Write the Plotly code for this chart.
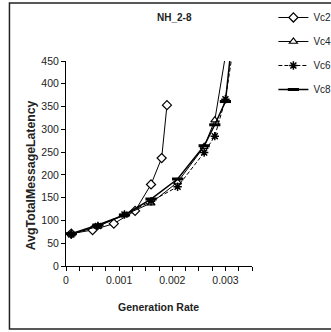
import plotly.graph_objects as go

# ---- data ----
x_vc2 = [0.0001, 0.0005, 0.0009, 0.0013, 0.0016, 0.0018, 0.0019]
y_vc2 = [71, 79, 93, 121, 179, 237, 353]

x_common = [0.0001, 0.0006, 0.0011, 0.0016, 0.0021, 0.0026, 0.0028, 0.0030, 0.0032]
y_vc4 = [70, 87, 112, 138, 184, 262, 320, 462, 900]
y_vc6 = [69, 88, 113, 142, 174, 249, 285, 366, 520]
y_vc8 = [71, 90, 112, 147, 191, 264, 310, 361, 580]

series_names = ["Vc2", "Vc4", "Vc6", "Vc8"]
title_text = "NH_2-8"
x_title = "Generation Rate"
y_title = "AvgTotalMessageLatency"
x_tickvals = [0, 0.001, 0.002, 0.003]
x_ticktext = ["0", "0.001", "0.002", "0.003"]
y_tickvals = [0, 50, 100, 150, 200, 250, 300, 350, 400, 450]

FONT = "Liberation Sans, Arial, sans-serif"

fig = go.Figure()
fig.add_trace(go.Scatter(
    x=x_vc2, y=y_vc2, name=series_names[0], mode="lines+markers",
    line=dict(color="black", width=1),
    marker=dict(symbol="diamond", size=7, color="white", line=dict(color="black", width=1.2)),
    cliponaxis=True))
fig.add_trace(go.Scatter(
    x=x_common, y=y_vc4, name=series_names[1], mode="lines+markers",
    line=dict(color="black", width=1),
    marker=dict(symbol="triangle-up", size=7, color="white", line=dict(color="black", width=1.2)),
    cliponaxis=True))
fig.add_trace(go.Scatter(
    x=x_common, y=y_vc6, name=series_names[2], mode="lines+markers",
    line=dict(color="black", width=1, dash="4px,2px"),
    marker=dict(symbol="asterisk-open", size=7, color="black", line=dict(color="black", width=1.5)),
    cliponaxis=True))
fig.add_trace(go.Scatter(
    x=x_common, y=y_vc8, name=series_names[3], mode="lines+markers",
    line=dict(color="black", width=1.5),
    marker=dict(symbol="line-ew-open", size=8, color="black", line=dict(color="black", width=3)),
    cliponaxis=True))

fig.update_layout(
    width=331, height=332,
    margin=dict(l=66, r=79, t=61, b=66, autoexpand=False),
    paper_bgcolor="white", plot_bgcolor="white",
    font=dict(family=FONT, size=10, color="black"),
    showlegend=True,
    legend=dict(x=1.115, y=1.283, xanchor="left", yanchor="top",
                font=dict(size=10, family=FONT, color="#222"),
                bgcolor="rgba(0,0,0,0)", tracegroupgap=5, itemwidth=30),
    xaxis=dict(range=[0, 0.0035], showgrid=False, zeroline=False,
               showline=True, linecolor="black", linewidth=1,
               tickvals=x_tickvals, ticktext=x_ticktext,
               ticks="outside", ticklen=4, tickcolor="black",
               minor=dict(dtick=0.00025, ticks="outside", ticklen=4, tickcolor="black", showgrid=False),
               tickfont=dict(size=10.5, family=FONT, color="#222")),
    yaxis=dict(range=[0, 450], showgrid=False, zeroline=False,
               showline=True, linecolor="black", linewidth=1,
               tickvals=y_tickvals, ticks="outside", ticklen=4, tickcolor="black",
               tickfont=dict(size=10.5, family=FONT, color="#222")),
)

for i, tr in enumerate(fig.data):
    tr.legendgroup = "g%d" % i

# chart border (chart area extends beyond right edge)
fig.add_shape(type="rect", xref="paper", yref="paper",
              x0=-0.304, x1=1.5, y0=-0.307, y1=1.283,
              line=dict(color="#222", width=1.5))

fig.add_annotation(text="<b>%s</b>" % title_text, xref="paper", yref="paper",
                   x=0.581, y=1.21, showarrow=False, xanchor="center", yanchor="middle",
                   font=dict(size=10, family=FONT, color="#222"))
fig.add_annotation(text="<b>%s</b>" % x_title, xref="paper", yref="paper",
                   x=0.497, y=-0.2, showarrow=False, xanchor="center", yanchor="middle",
                   font=dict(size=10.5, family=FONT, color="#222"))
fig.add_annotation(text="<b>%s</b>" % y_title, xref="paper", yref="paper",
                   x=-0.187, y=0.444, showarrow=False, textangle=-90,
                   xanchor="center", yanchor="middle",
                   font=dict(size=12.3, family=FONT, color="#222"))

fig.write_html("out.html")
